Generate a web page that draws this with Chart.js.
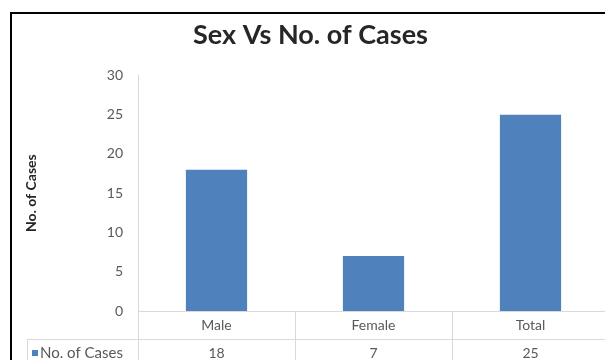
<!DOCTYPE html>
<html>
<head>
<meta charset="utf-8">
<script src="https://cdn.jsdelivr.net/npm/chart.js@4"></script>
<style>
  html, body { margin: 0; padding: 0; background: #fff; overflow: hidden; width: 605px; height: 360px; }
  #frame { position: absolute; left: 10px; top: 12px; border-left: 2px solid #000; border-top: 2px solid #000; }
  canvas { display: block; }
</style>
</head>
<body>
<div id="frame"><canvas id="chart" width="610" height="360"></canvas></div>
<script>
const categories = ["Male", "Female", "Total"];
const cases = [18, 7, 25];
const seriesName = "No. of Cases";
const chartTitle = "Sex Vs No. of Cases";
const yTitle = "No. of Cases";

const BAR_COLOR = "#4f81bd";
const LINE_COLOR = "#d9d9d9";
const TEXT_COLOR = "#595959";
const FONT = "Lato, 'Open Sans', sans-serif";
const ROW_H = 28;

// draws the data table under the plot, Excel style
const dataTable = {
  id: "dataTable",
  afterDraw(chart) {
    const { ctx, chartArea, scales } = chart;
    const x = scales.x;
    const top = chartArea.bottom;
    const step = (chartArea.right - chartArea.left) / categories.length;
    const legendLeft = 15;

    ctx.save();
    ctx.strokeStyle = LINE_COLOR;
    ctx.lineWidth = 1;
    ctx.beginPath();
    // row lines
    ctx.moveTo(legendLeft, top + ROW_H + 0.5);
    ctx.lineTo(chartArea.right, top + ROW_H + 0.5);
    ctx.moveTo(legendLeft, top + ROW_H * 2 + 0.5);
    ctx.lineTo(chartArea.right, top + ROW_H * 2 + 0.5);
    // column lines
    for (let i = 0; i <= categories.length; i++) {
      const cx = Math.round(chartArea.left + step * i) + 0.5;
      ctx.moveTo(cx, top);
      ctx.lineTo(cx, top + ROW_H * 2);
    }
    ctx.moveTo(legendLeft + 0.5, top + ROW_H);
    ctx.lineTo(legendLeft + 0.5, top + ROW_H * 2);
    ctx.stroke();

    const rowMid = top + ROW_H + ROW_H / 2;
    ctx.fillStyle = BAR_COLOR;
    ctx.fillRect(legendLeft + 5, rowMid - 3, 6, 6);

    ctx.fillStyle = TEXT_COLOR;
    ctx.font = "15px " + FONT;
    ctx.textBaseline = "middle";
    ctx.textAlign = "left";
    ctx.fillText(seriesName, legendLeft + 13, rowMid);
    ctx.font = "14px " + FONT;
    ctx.textAlign = "center";
    cases.forEach((v, i) => {
      ctx.fillText(String(v), x.getPixelForValue(i), rowMid);
    });
    ctx.restore();
  }
};

new Chart(document.getElementById("chart"), {
  type: "bar",
  data: {
    labels: categories,
    datasets: [{
      label: seriesName,
      data: cases,
      backgroundColor: BAR_COLOR,
      barPercentage: 0.39,
      categoryPercentage: 1
    }]
  },
  options: {
    responsive: false,
    animation: false,
    layout: { padding: { left: 0, right: 13, top: 0, bottom: 0 } },
    plugins: {
      legend: { display: false },
      tooltip: { enabled: false },
      title: {
        display: true,
        text: chartTitle,
        color: "#262626",
        font: { family: FONT, size: 27, weight: "bold" },
        padding: { top: 5, bottom: 24 }
      }
    },
    scales: {
      x: {
        grid: { display: false, drawTicks: false },
        border: { display: true, color: LINE_COLOR },
        ticks: { color: TEXT_COLOR, font: { family: FONT, size: 14 }, padding: 6 },
        afterFit(scale) { scale.height = 63; }
      },
      y: {
        min: 0,
        max: 30,
        grid: { display: false, drawTicks: false },
        border: { display: true, color: LINE_COLOR },
        ticks: { stepSize: 5, color: TEXT_COLOR, font: { family: FONT, size: 14 }, padding: 15 },
        title: {
          display: true,
          text: yTitle,
          color: "#262626",
          font: { family: FONT, size: 14, weight: "bold" },
          padding: { top: 11, bottom: 0 }
        },
        afterFit(scale) { scale.width = 126; }
      }
    }
  },
  plugins: [dataTable]
});
</script>
</body>
</html>
